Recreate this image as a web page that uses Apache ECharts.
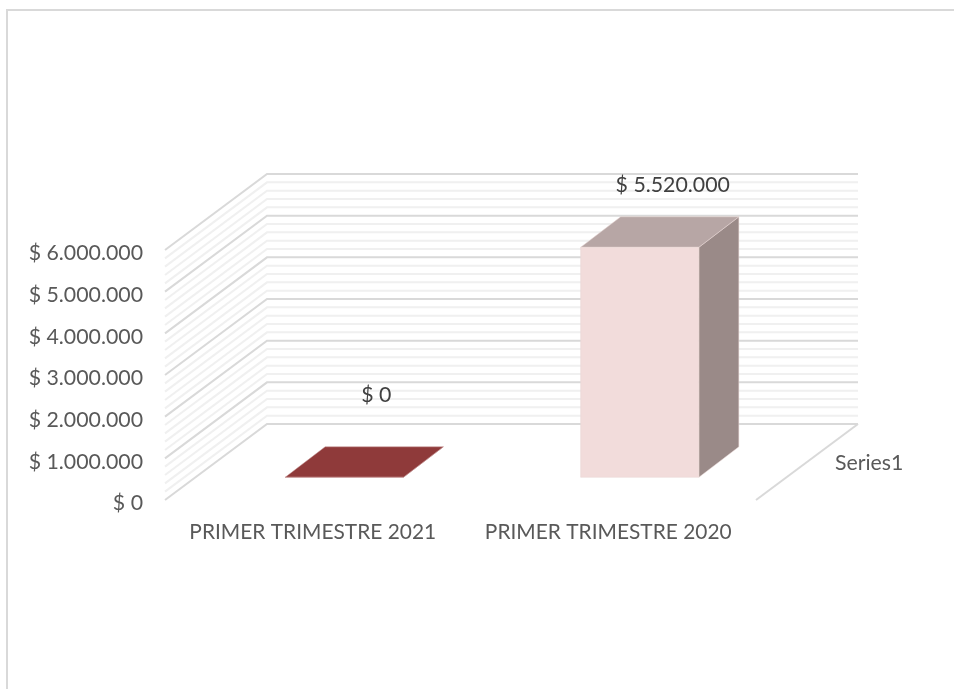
<!DOCTYPE html>
<html>
<head>
<meta charset="utf-8">
<style>html,body{margin:0;padding:0;background:#fff}#c{width:954px;height:689px}</style>
<script src="https://cdn.jsdelivr.net/npm/echarts@6/dist/echarts.min.js"></script>
</head>
<body>
<div id="c"></div>
<script>
const categories = ['PRIMER TRIMESTRE 2021', 'PRIMER TRIMESTRE 2020'];
const seriesName = 'Series1';
const values = [0, 5520000];
const majorTicks = [0, 1000000, 2000000, 3000000, 4000000, 5000000, 6000000];
const minorTicks = [
  200000, 400000, 600000, 800000,
  1200000, 1400000, 1600000, 1800000,
  2200000, 2400000, 2600000, 2800000,
  3200000, 3400000, 3600000, 3800000,
  4200000, 4400000, 4600000, 4800000,
  5200000, 5400000, 5600000, 5800000
];

const FONT = 'Lato';
const FONT_SIZE = 21.3;
const WALL_DX = 102, WALL_DY = -76;
const BAR_DX = 40, BAR_DY = -30.5;
const BAR_SHIFT_X = 31.5, BAR_SHIFT_Y = -22.7;
const LABEL_OFFSET = [[32, -82.5], [33, -62.5]];
const BAR_COLORS = [
  { front: '#953735', top: '#8f3a3a', side: '#7a2e2e', edge: '#c99a9a' },
  { front: '#f2dcdb', top: '#b7a6a5', side: '#9a8a88', edge: '#e8d6d4' }
];
const fmt = v => '$ ' + String(v).replace(/\B(?=(\d{3})+$)/g, '.');

function wallLine(params, api, style) {
  const cs = params.coordSys;
  const y = api.coord([0, api.value(1)])[1];
  const left = cs.x, right = cs.x + cs.width;
  return {
    type: 'polyline',
    shape: { points: [[left, y], [left + WALL_DX, y + WALL_DY], [right + WALL_DX, y + WALL_DY]] },
    style: Object.assign({ fill: null }, style),
    silent: true
  };
}

const option = {
  animation: false,
  backgroundColor: '#ffffff',
  grid: { left: 165, top: 250, width: 591, height: 250 },
  xAxis: {
    type: 'category',
    data: categories,
    axisLine: { show: false },
    axisTick: { show: false },
    axisLabel: { fontFamily: FONT, fontSize: 20.9, color: '#595959', margin: 22, interval: 0 }
  },
  yAxis: {
    type: 'value',
    min: 0,
    max: 6000000,
    interval: 1000000,
    splitLine: { show: false },
    axisLine: { show: false },
    axisTick: { show: false },
    axisLabel: {
      margin: 22,
      formatter: v => '{t|' + fmt(v) + '}',
      rich: { t: { fontFamily: FONT, fontSize: FONT_SIZE, color: '#595959', padding: [7, 0, 0, 0] } }
    }
  },
  graphic: [
    { type: 'rect', silent: true, z: -1, shape: { x: 7, y: 10, width: 1200, height: 1200 }, style: { fill: null, stroke: '#d9d9d9', lineWidth: 2 } },
    { type: 'text', silent: true, left: 835, top: 453, style: { text: seriesName, fontFamily: FONT, fontSize: FONT_SIZE, fill: '#595959' } }
  ],
  series: [
    {
      type: 'custom', name: 'minor', coordinateSystem: 'cartesian2d', clip: false, silent: true, z: 1,
      encode: { x: 0, y: 1 },
      data: minorTicks.map(v => [0, v]),
      renderItem: (p, api) => wallLine(p, api, { stroke: '#f0f0f0', lineWidth: 2 })
    },
    {
      type: 'custom', name: 'major', coordinateSystem: 'cartesian2d', clip: false, silent: true, z: 2,
      encode: { x: 0, y: 1 },
      data: majorTicks.map(v => [0, v]),
      renderItem: (p, api) => {
        const line = wallLine(p, api, { stroke: '#d9d9d9', lineWidth: 2 });
        if (api.value(1) !== 0) return line;
        const cs = p.coordSys;
        const y = api.coord([0, 0])[1];
        const right = cs.x + cs.width;
        return {
          type: 'group',
          children: [line, {
            type: 'line', silent: true,
            shape: { x1: right, y1: y, x2: right + WALL_DX, y2: y + WALL_DY },
            style: { stroke: '#d9d9d9', lineWidth: 2 }
          }]
        };
      }
    },
    {
      type: 'custom', name: seriesName, coordinateSystem: 'cartesian2d', clip: false, z: 3,
      encode: { x: 0, y: 1 },
      data: values.map((v, i) => [i, v]),
      renderItem: (p, api) => {
        const i = api.value(0), v = api.value(1);
        const top = api.coord([i, v]), base = api.coord([i, 0]);
        const w = api.size([1, 0])[0] * 0.4;
        const x0 = top[0] + BAR_SHIFT_X - w / 2, x1 = x0 + w;
        const yT = top[1] + BAR_SHIFT_Y, yB = base[1] + BAR_SHIFT_Y;
        const c = BAR_COLORS[i];
        const face = (pts, fill) => ({
          type: 'polygon', shape: { points: pts },
          style: { fill, stroke: c.edge, lineWidth: 0.5 }
        });
        return {
          type: 'group',
          children: [
            face([[x1, yB], [x1 + BAR_DX, yB + BAR_DY], [x1 + BAR_DX, yT + BAR_DY], [x1, yT]], c.side),
            face([[x0, yT], [x1, yT], [x1 + BAR_DX, yT + BAR_DY], [x0 + BAR_DX, yT + BAR_DY]], c.top),
            face([[x0, yT], [x1, yT], [x1, yB], [x0, yB]], c.front),
            {
              type: 'text', silent: true, z2: 10,
              style: {
                x: top[0] + BAR_SHIFT_X + LABEL_OFFSET[i][0],
                y: yT + LABEL_OFFSET[i][1],
                text: fmt(v), fontFamily: FONT, fontSize: FONT_SIZE, fill: '#404040',
                align: 'center', verticalAlign: 'middle'
              }
            }
          ]
        };
      }
    }
  ]
};
const chart = echarts.init(document.getElementById('c'), null, { renderer: 'canvas' });
chart.setOption(option);
</script>
</body>
</html>
